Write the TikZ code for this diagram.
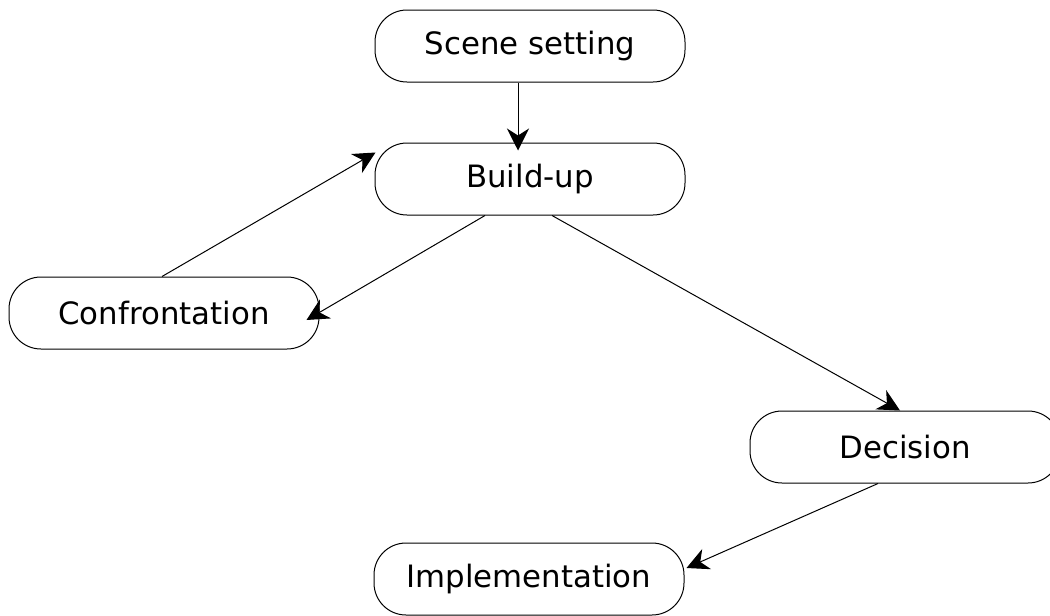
\documentclass[tikz,border=0pt]{standalone}
\usepackage{fontspec}
\setmainfont{DejaVu Sans}
\usetikzlibrary{arrows.meta}

\begin{document}
\begin{tikzpicture}[x=0.5pt,y=-0.5pt,>={Stealth[length=11pt,width=11pt,inset=3.5pt]},
  stage/.style={draw,line width=0.5pt,rounded corners=16pt,minimum width=155pt,
    minimum height=36pt,inner sep=0pt,font=\fontsize{15.4}{19}\selectfont}]
 \useasboundingbox (0,0) rectangle (1050,616);
 \begin{scope}
  \clip (0,0) rectangle (1050,616);
  \node[stage] (scene) at (530,46) {Scene setting};
  \node[stage] (build) at (530,179) {Build-up};
  \node[stage] (confr) at (164,313) {Confrontation};
  \node[stage] (decis) at (905,447) {Decision};
  \node[stage] (impl) at (529,579) {Implementation};
 \end{scope}
 \draw[->,line width=0.5pt] ([xshift=-6pt]scene.south) -- ([xshift=-6pt,yshift=-4pt]build.north);
 \draw[->,line width=0.5pt] ([xshift=-1pt]confr.north) -- ([xshift=0.5pt,yshift=-5pt]build.north west);
 \draw[->,line width=0.5pt] ([xshift=-22.5pt]build.south) -- ([xshift=-6.5pt,yshift=-3.5pt]confr.east);
 \draw[->,line width=0.5pt] ([xshift=11pt]build.south) -- ([xshift=-2.5pt]decis.north);
 \draw[->,line width=0.5pt] ([xshift=-13.5pt]decis.south) -- ([xshift=1pt,yshift=5.5pt]impl.east);
\end{tikzpicture}
\end{document}
